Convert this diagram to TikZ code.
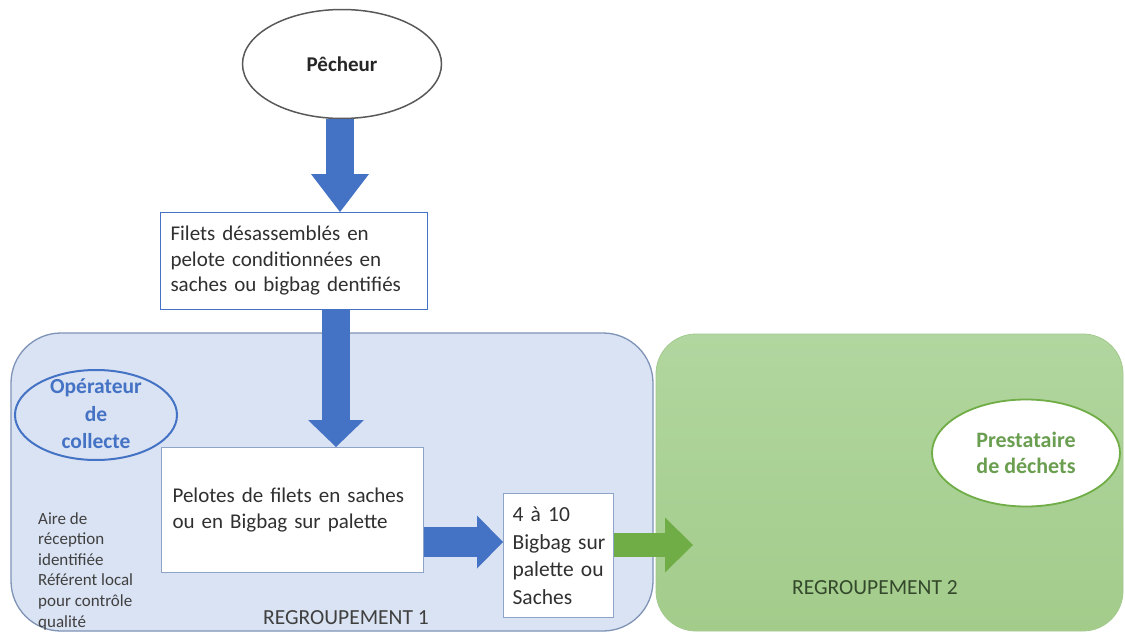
\documentclass[tikz,border=0pt]{standalone}
\usepackage{fontspec}
\setmainfont{Carlito}
\usetikzlibrary{arrows.meta,shapes.geometric}
\definecolor{obl}{HTML}{4472C4}
\definecolor{ogr}{HTML}{70AD47}
\definecolor{regbl}{HTML}{DAE3F3}
\definecolor{regbd}{HTML}{7F93B6}
\definecolor{boxbd}{HTML}{8EA3C8}
\definecolor{grtop}{HTML}{B1D69F}
\definecolor{grbot}{HTML}{A3CC8B}
\definecolor{grbd}{HTML}{A3CA8E}
\definecolor{txt}{HTML}{404040}
\definecolor{boxtxt}{HTML}{303030}
\definecolor{grtxt}{HTML}{6A9E50}
\definecolor{dgr}{HTML}{34492C}
\definecolor{pechbd}{HTML}{595959}
\begin{document}
\begin{tikzpicture}[x=1pt,y=-1pt,
  region/.style={rectangle, inner sep=0pt},
  procbox/.style={rectangle, fill=white, align=left, inner ysep=0pt,
    text=boxtxt, font=\fontsize{21}{25.5}\selectfont, anchor=north west},
  blockarrow/.style={line cap=butt},
]
\useasboundingbox[fill=white] (0,0) rectangle (1125,632);

% regions
\node[region, draw=regbd, line width=1.3pt, fill=regbl, rounded corners=50pt,
      minimum width=642pt, minimum height=298pt] (r1) at (332,482) {};
\node[region, draw=grbd, line width=0.8pt, top color=grtop, bottom color=grbot,
      rounded corners=40pt, minimum width=467pt, minimum height=297pt] (r2) at (889.5,482.5) {};

% top ellipse
\node[ellipse, draw=pechbd, line width=1.5pt, fill=white, minimum width=199pt,
      minimum height=109pt, inner sep=0pt, text=black!85,
      font=\bfseries\fontsize{21}{25}\selectfont] (pech) at (342,64) {Pêcheur};

% boxes
\node[procbox, draw=obl, line width=1pt, inner xsep=10pt, text width=247pt,
      minimum height=97pt] (b1) at (160,212)
      {\mbox{Filets désassemblés en}\\\mbox{pelote conditionnées en}\\\mbox{saches ou bigbag dentifiés}};
\node[procbox, draw=boxbd, line width=1.2pt, inner xsep=11pt, text width=240pt,
      minimum height=125pt] (b2) at (161,447)
      {\mbox{Pelotes de filets en saches}\\\mbox{ou en Bigbag sur palette}};
\node[procbox, draw=boxbd, line width=1.2pt, inner xsep=9pt, text width=92pt,
      minimum height=124pt, font=\fontsize{21.5}{27.5}\selectfont] (b3) at (503,493)
      {\mbox{4 à 10}\\\mbox{Bigbag sur}\\\mbox{palette ou}\\\mbox{Saches}};

% actors
\node[ellipse, draw=obl, line width=2pt, minimum width=162pt, minimum height=90pt,
      inner sep=0pt] (op) at (96,415) {};
\node[align=center, inner sep=0pt, text=obl,
      font=\bfseries\fontsize{21.5}{27.5}\selectfont] (optext) at ([yshift=1pt]op.center) {Opérateur\\de\\collecte};
\node[ellipse, draw=ogr, line width=1.8pt, fill=white, minimum width=188pt,
      minimum height=107pt, inner sep=0pt, align=center, text=grtxt,
      font=\bfseries\fontsize{22}{25.5}\selectfont] (pres) at (1026,453) {Prestataire\\de déchets};

% notes and region labels
\node[anchor=north west, align=left, inner sep=0pt, text=txt,
      font=\fontsize{17}{20.6}\selectfont] (aire) at (38,512)
      {Aire de\\réception\\identifiée\\Référent local\\pour contrôle\\qualité};
\node[text=txt, inner sep=0pt, font=\fontsize{21.5}{24}\selectfont] (g1) at (346,618) {REGROUPEMENT 1};
\node[text=dgr, inner sep=0pt, font=\fontsize{21.5}{24}\selectfont] (g2) at (875,588) {REGROUPEMENT 2};

% arrows
\coordinate (a1) at (340,0);
\coordinate (a2) at (336,0);
\coordinate (a3) at (0,542);
\coordinate (a4) at (0,545);
\coordinate (g4) at (693,545);
\draw[blockarrow, draw=obl, fill=obl, line width=28pt,
      -{Triangle[width=58pt,length=38pt,line width=0pt]}] (pech.south -| a1) -- (b1.north -| a1);
\draw[blockarrow, draw=obl, fill=obl, line width=28pt,
      -{Triangle[width=56pt,length=27pt,line width=0pt]}] (b1.south -| a2) -- (b2.north -| a2);
\draw[blockarrow, draw=obl, fill=obl, line width=30pt,
      -{Triangle[width=53pt,length=26pt,line width=0pt]}] (b2.east |- a3) -- (b3.west |- a3);
\draw[blockarrow, draw=ogr, fill=ogr, line width=24pt,
      -{Triangle[width=55pt,length=28pt,line width=0pt]}] (b3.east |- a4) -- (g4);
\end{tikzpicture}
\end{document}
